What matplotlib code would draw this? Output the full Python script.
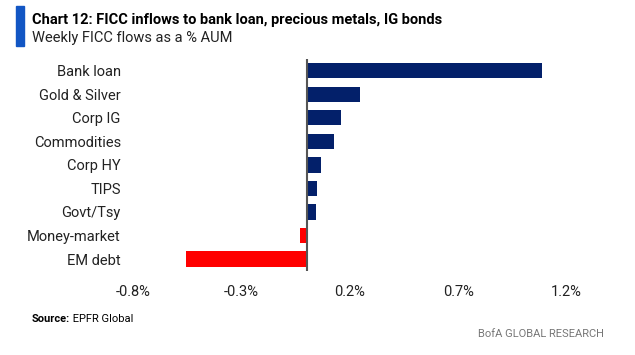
import matplotlib.pyplot as plt
import matplotlib.patches as mpatches
from matplotlib.ticker import FuncFormatter

# data (weekly FICC flows as % of AUM)
categories = ['Bank loan', 'Gold & Silver', 'Corp IG', 'Commodities', 'Corp HY',
              'TIPS', 'Govt/Tsy', 'Money-market', 'EM debt']
flows = [1.085, 0.246, 0.158, 0.125, 0.065, 0.046, 0.042, -0.031, -0.557]
tick_vals = [-0.8, -0.3, 0.2, 0.7, 1.2]

navy = '#03206a'
red = '#ff0000'
plt.rcParams['font.family'] = ['Roboto', 'DejaVu Sans']

fig = plt.figure(figsize=(6.35, 3.55), dpi=100)
ax = fig.add_axes([0.210, 0.237, 0.682, 0.597])

colors = [navy if v >= 0 else red for v in flows]
ax.barh(range(len(categories)), flows, height=0.65, color=colors)
ax.set_yticks(range(len(categories)))
ax.set_yticklabels(categories, fontsize=10.5, color='#222222')
ax.set_ylim(len(categories) - 0.5, -0.5)
ax.set_xlim(-0.8, 1.2)
ax.set_xticks(tick_vals)
ax.xaxis.set_major_formatter(FuncFormatter(lambda v, p: '%.1f%%' % v))
ax.tick_params(axis='x', length=0, labelsize=10.5, pad=10, colors='#222222')
ax.tick_params(axis='y', length=0, pad=9)
for s in ['top', 'right', 'bottom', 'left']:
    ax.spines[s].set_visible(False)
ax.axvline(0, color='#555555', lw=1.5)

# title block
fig.patches.append(mpatches.Rectangle((16 / 635, 1 - 46 / 355), 8 / 635, 40 / 355,
                                      transform=fig.transFigure, color='#1256c4'))
fig.text(32 / 635, 1 - 24 / 355, 'Chart 12: FICC inflows to bank loan, precious metals, IG bonds',
         fontsize=10.5, fontweight='bold', color='black', va='baseline')
fig.text(32 / 635, 1 - 42 / 355, 'Weekly FICC flows as a % AUM',
         fontsize=10.5, color='#222222', va='baseline')

# footer
src = fig.text(32 / 635, 1 - 322 / 355, 'Source:', fontsize=8, fontweight='bold', va='baseline')
ax.annotate(' EPFR Global', xy=(1, 0), xycoords=src, fontsize=8, va='bottom', ha='left',
            annotation_clip=False)
fig.text(604 / 635, 1 - 337 / 355, 'BofA GLOBAL RESEARCH', fontsize=8, color='#777777',
         ha='right', va='baseline')

plt.savefig('out.png', dpi=100)
